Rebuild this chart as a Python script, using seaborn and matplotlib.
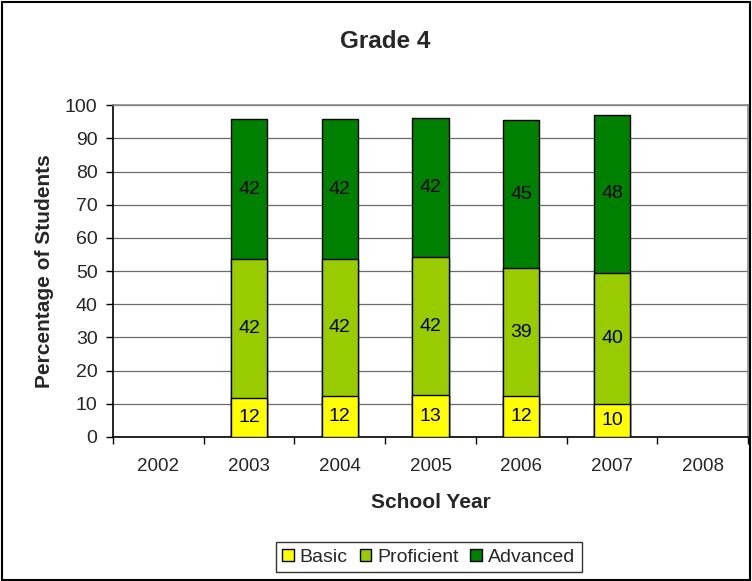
import numpy as np
import pandas as pd
import matplotlib
matplotlib.use("Agg")
import matplotlib.pyplot as plt
import seaborn as sns
from matplotlib.patches import Patch, Rectangle

years = ["2002", "2003", "2004", "2005", "2006", "2007", "2008"]
data_years = ["2003", "2004", "2005", "2006", "2007"]
basic = [11.8, 12.2, 12.6, 12.3, 9.8]
proficient = [41.8, 41.5, 41.6, 38.6, 39.7]
advanced = [42.1, 42.0, 42.0, 44.6, 47.6]
series_names = ["Basic", "Proficient", "Advanced"]
colors = ["#FFFF00", "#99CC00", "#008000"]

sns.set_theme(style="white")
plt.rcParams["font.family"] = ["Liberation Sans", "DejaVu Sans"]

df = pd.DataFrame({"year": data_years, "Basic": basic,
                   "Proficient": proficient, "Advanced": advanced})
df["c1"] = df["Basic"]
df["c2"] = df["Basic"] + df["Proficient"]
df["c3"] = df["c2"] + df["Advanced"]

fig = plt.figure(figsize=(7.52, 5.81), dpi=100)
ax = fig.add_axes([0.150, 0.248, 0.845, 0.571])

for col, colr in zip(["c3", "c2", "c1"], colors[::-1]):
    sns.barplot(data=df, x="year", y=col, order=years, color=colr,
                width=0.4, edgecolor="black", linewidth=1.0,
                saturation=1, ax=ax, zorder=3)

# segment labels
for i, yr in enumerate(data_years):
    xi = years.index(yr)
    lo = 0
    for name in series_names:
        v = df.loc[i, name]
        ax.text(xi, lo + v / 2, f"{round(v):d}", ha="center", va="center",
                fontsize=14, color="black", zorder=5)
        lo += v

ax.set_ylim(0, 100)
ax.set_xlim(-0.5, 6.5)
ax.set_yticks(np.arange(0, 101, 10))
ax.yaxis.grid(True, color="#6b6b6b", linewidth=0.9)
ax.set_axisbelow(True)
ax.tick_params(axis="y", which="major", length=5, width=1, color="black",
               labelsize=14, pad=6, left=True)
ax.set_xticks(range(len(years)))
ax.set_xticklabels(years)
ax.tick_params(axis="x", which="major", length=0, labelsize=13.5, pad=15)
ax.set_xticks(np.arange(-0.5, 7.0, 1.0), minor=True)
ax.tick_params(axis="x", which="minor", length=5, width=1, color="black",
               bottom=True)

for s in ["left", "bottom"]:
    ax.spines[s].set_color("black")
    ax.spines[s].set_linewidth(1.2)
for s in ["top", "right"]:
    ax.spines[s].set_color("#8a8a8a")
    ax.spines[s].set_linewidth(1.2)

ax.set_xlabel("School Year", fontsize=15, fontweight="bold")
ax.xaxis.set_label_coords(0.501, -0.169)
ax.set_ylabel("Percentage of Students", fontsize=15, fontweight="bold")
ax.yaxis.set_label_coords(-0.092, 0.5)
fig.text(0.512, 0.929, "Grade 4", fontsize=17.5, fontweight="bold",
         ha="center", va="center")

handles = [Patch(facecolor=c, edgecolor="black", linewidth=1, label=n)
           for c, n in zip(colors, series_names)]
leg = fig.legend(handles=handles, loc="center", bbox_to_anchor=(0.570, 0.041),
                 ncol=3, frameon=True, fancybox=False, fontsize=14,
                 handlelength=0.6, handleheight=0.6, handletextpad=0.3,
                 columnspacing=0.6, borderpad=0.35)
leg.get_frame().set_edgecolor("black")
leg.get_frame().set_linewidth(1)

fig.patches.append(Rectangle((0.002, 0.002), 0.996, 0.995, transform=fig.transFigure,
                             fill=False, edgecolor="black", linewidth=1.5))

fig.savefig("out.png", dpi=100)
